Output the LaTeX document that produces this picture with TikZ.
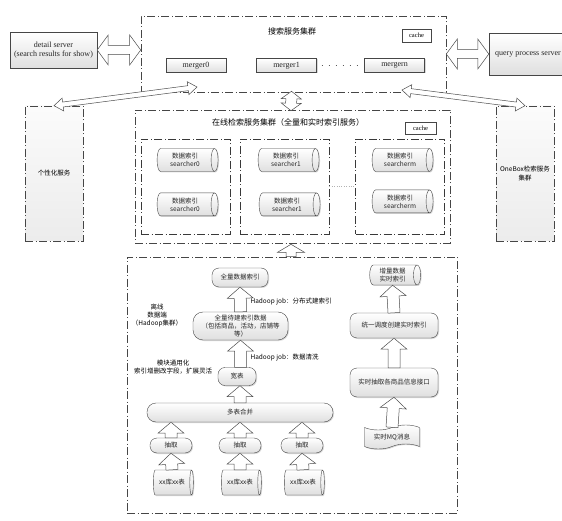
\documentclass[tikz,border=0pt]{standalone}
\usepackage{fontspec}
\setmainfont{Liberation Serif}
\newfontfamily\cjk{Noto Sans CJK SC}
\usetikzlibrary{arrows.meta,calc,positioning,shapes.geometric,shapes.symbols,shadows}
\tikzset{%
  % hollow fat arrows: shaft half width, head half width, head length
  fat single/.style n args={3}{to path={
      let \p1=(\tikztostart), \p2=(\tikztotarget),
          \n1={atan2(\y2-\y1,\x2-\x1)} in
         ($(\p1)+({\n1+90}:#1)$)
      -- ($(\p2)+({\n1+180}:#3)+({\n1+90}:#1)$)
      -- ($(\p2)+({\n1+180}:#3)+({\n1+90}:#2)$)
      -- (\p2)
      -- ($(\p2)+({\n1+180}:#3)+({\n1-90}:#2)$)
      -- ($(\p2)+({\n1+180}:#3)+({\n1-90}:#1)$)
      -- ($(\p1)+({\n1-90}:#1)$) -- cycle}},
  fat double/.style n args={3}{to path={
      let \p1=(\tikztostart), \p2=(\tikztotarget),
          \n1={atan2(\y2-\y1,\x2-\x1)} in
         (\p1)
      -- ($(\p1)+(\n1:#3)+({\n1+90}:#2)$)
      -- ($(\p1)+(\n1:#3)+({\n1+90}:#1)$)
      -- ($(\p2)+({\n1+180}:#3)+({\n1+90}:#1)$)
      -- ($(\p2)+({\n1+180}:#3)+({\n1+90}:#2)$)
      -- (\p2)
      -- ($(\p2)+({\n1+180}:#3)+({\n1-90}:#2)$)
      -- ($(\p2)+({\n1+180}:#3)+({\n1-90}:#1)$)
      -- ($(\p1)+(\n1:#3)+({\n1-90}:#1)$)
      -- ($(\p1)+(\n1:#3)+({\n1-90}:#2)$) -- cycle}},
  hollow/.style = {draw=gray!60!black, fill=white, line width=.5pt},
       upArrow/.style = {hollow, fat single={6pt}{13pt}{11pt}},
    shortArrow/.style = {hollow, fat single={5pt}{13.5pt}{8pt}},
     thinBoth/.style = {hollow, fat double={2.5pt}{6.5pt}{9pt}},
     sideBoth/.style = {hollow, fat double={4.5pt}{15pt}{11pt}},
      midBoth/.style = {hollow, fat double={5.5pt}{10pt}{7.5pt}},
  % Specifications for style of nodes:
         base/.style = {draw=gray!55!black, top color=white, bottom color=gray!25,
                        text=black!85, align=center, inner sep=1.5pt,
                        drop shadow={shadow xshift=1pt, shadow yshift=-1pt, opacity=.3}},
       server/.style = {base, rectangle, font=\fontsize{8}{9.5}\selectfont},
       merger/.style = {server, minimum width=60pt, minimum height=14pt},
        cache/.style = {rectangle, draw=gray!55!black, fill=white, inner sep=1pt,
                        minimum width=29pt, minimum height=13pt,
                        font=\fontsize{6.5}{7}\selectfont},
      cluster/.style = {rectangle, draw=gray!55!black, line width=.6pt,
                        dash pattern=on 8pt off 2.5pt on 1pt off 2.5pt},
       column/.style = {cluster, draw=gray!45!black, minimum width=89pt,
                        minimum height=95pt},
      sidebox/.style = {cluster, top color=gray!3, bottom color=gray!15,
                        minimum width=58pt, minimum height=135pt, align=center,
                        font=\cjk\fontsize{6.5}{9}\selectfont},
        title/.style = {font=\cjk\fontsize{8}{9}\selectfont},
           db/.style = {base, cylinder, shape aspect=.45, inner sep=1pt,
                        minimum height=61pt, minimum width=23pt,
                        font=\cjk\fontsize{6.5}{8}\selectfont},
         proc/.style = {base, rounded corners=7pt, font=\cjk\fontsize{6.5}{8}\selectfont},
          msg/.style = {base, tape, tape bend height=5pt, minimum width=55pt,
                        minimum height=24pt, font=\cjk\fontsize{6.5}{8}\selectfont},
         note/.style = {align=center, font=\cjk\fontsize{6.5}{8}\selectfont},
}
\begin{document}
\begin{tikzpicture}[x=1pt, y=-1pt]
  \useasboundingbox (0,0) rectangle (562,521);
  % search cluster at the top
  \node (search)   [cluster, minimum width=305pt, minimum height=76pt] at (293.5,54) {};
  \node (searchT)  [title] at (292,31)                  {搜索服务集群};
  \node (cache1)   [cache] at (416.5,35.5)              {cache};
  \node (merger0)  [merger] at (196,65.5)               {merger0};
  \node (merger1)  [merger] at (286.5,65.5)             {merger1};
  \node (mergern)  [merger] at (394.5,65.5)             {mergern};
  \node (detail)   [server, minimum width=87pt, minimum height=36pt] at (53.5,50)
                   {detail server\\(search results for show)};
  \node (query)    [server, minimum width=78pt, minimum height=42pt] at (528,54)
                   {query process server};
  \coordinate (pin)  at (197,87);
  \coordinate (pout) at (402,90);

  % side services
  \node (personal) [sidebox] at (54,173.5)              {个性化服务};
  \node (onebox)   [sidebox] at (525,173.5)             {OneBox检索服务\\集群};

  % online retrieval cluster
  \node (online)   [cluster, minimum width=315pt, minimum height=133pt] at (292.5,176.5) {};
  \node (onlineT)  [title] at (288,122)                 {在线检索服务集群（全量和实时索引服务）};
  \node (cache2)   [cache, minimum width=31pt, minimum height=12pt] at (420.5,128) {cache};
  \node (col0)     [column] at (185.5,186.5)            {};
  \node (col1)     [column] at (284.5,186.5)            {};
  \node (colm)     [column] at (400,186.5)              {};
  \node (s0a)      [db] at (185,160)                    {数据索引\\searcher0};
  \node (s0b)      [db, below=21pt of s0a]              {数据索引\\searcher0};
  \node (s1a)      [db] at (286,160)                    {数据索引\\searcher1};
  \node (s1b)      [db, below=21pt of s1a, xshift=1pt]  {数据索引\\searcher1};
  \node (sma)      [db] at (400,160)                    {数据索引\\searcherm};
  \node (smb)      [db, below=18pt of sma]              {数据索引\\searcherm};

  % offline data side
  \node (offline)  [cluster, minimum width=330pt, minimum height=256pt] at (292,385) {};
  \node (offT)     [note] at (157,315)                  {离线\\数据端\\（Hadoop集群）};
  \node (idx)      [proc, minimum width=56pt, minimum height=19pt] at (240,277.5) {全量数据索引};
  \node (full)     [proc, rounded corners=10pt, minimum width=95pt, minimum height=28pt]
                   at (240.5,326)                       {全量待建索引数据\\（包括商品，活动，店铺等\\等）};
  \node (wide)     [proc, minimum width=38pt, minimum height=18pt] at (237,376.5) {宽表};
  \node (modNote)  [note] at (173,367)                  {模块通用化\\索引增删改字段，扩展灵活};
  \node (merge)    [proc, rounded corners=9pt, minimum width=186pt, minimum height=19pt]
                   at (240,412.5)                       {多表合并};
  \node (ext1)     [proc, minimum width=42pt, minimum height=15pt] at (171,445.5) {抽取};
  \node (ext2)     [proc, minimum width=42pt, minimum height=15pt] at (240,445.5) {抽取};
  \node (ext3)     [proc, minimum width=42pt, minimum height=15pt] at (302,445.5) {抽取};
  \node (tbl1)     [db, minimum height=40pt, minimum width=25pt] at (172,482.5) {xx库xx表};
  \node (tbl2)     [db, minimum height=40pt, minimum width=25pt] at (240,482.5) {xx库xx表};
  \node (tbl3)     [db, minimum height=40pt, minimum width=25pt] at (303,482.5) {xx库xx表};
  \node (inc)      [db, minimum height=51pt, minimum width=20pt] at (392.5,275) {增量数据\\实时索引};
  \node (sched)    [proc, minimum width=88pt, minimum height=25pt] at (394,325.5) {统一调度创建实时索引};
  \node (rt)       [proc, minimum width=88pt, minimum height=29pt] at (394,382.5) {实时抽取各商品信息接口};
  \node (mq)       [msg] at (392,437)                   {实时MQ消息};

  % connectors
  \draw[sideBoth]     (detail.east) to (search.west |- detail.east);
  \draw[sideBoth]    (search.east |- query.west) to (query.west);
  \draw[thinBoth] (personal.north) to (pin);
  \draw[thinBoth]   (onebox.north) to (pout);
  \draw[midBoth]    ($(search.south)+(-2,-1)$) to ($(online.north)+(-1.5,1)$);
  \draw[shortArrow] ($(offline.north)+(-1,0)$) to ($(online.south)+(-1.5,1)$);
  \draw[line width=1.2pt, dash pattern=on 1pt off 6pt, gray!70!black,
        shorten <=5pt, shorten >=4pt] (merger1.east) -- (mergern.west);
  \draw[gray!60, dotted]  (col1.east) -- (colm.west);

  \draw[upArrow]     (full.north) to (idx.south);
  \draw[upArrow]     (wide.north -| full.south) to (full.south);
  \draw[upArrow]    (merge.north) to (wide.south -| merge.north);
  \draw[upArrow]     (ext1.north) to (ext1.north |- merge.south);
  \draw[upArrow]     (ext2.north) to (ext2.north |- merge.south);
  \draw[upArrow]     (ext3.north) to (ext3.north |- merge.south);
  \draw[upArrow]     (tbl1.north) to (ext1.south);
  \draw[upArrow]     (tbl2.north) to (ext2.south);
  \draw[upArrow]     (tbl3.north) to (ext3.south);
  \draw[upArrow]       (mq.north) to (rt.south);
  \draw[upArrow]       (rt.north) to (sched.south);
  \draw[upArrow]    (sched.north) to (inc.south);

  \node (job1) [note, anchor=west] at (247,302) {Hadoop job：分布式建索引};
  \node (job2) [note, anchor=west] at (247,358) {Hadoop job：数据清洗};
\end{tikzpicture}
\end{document}
